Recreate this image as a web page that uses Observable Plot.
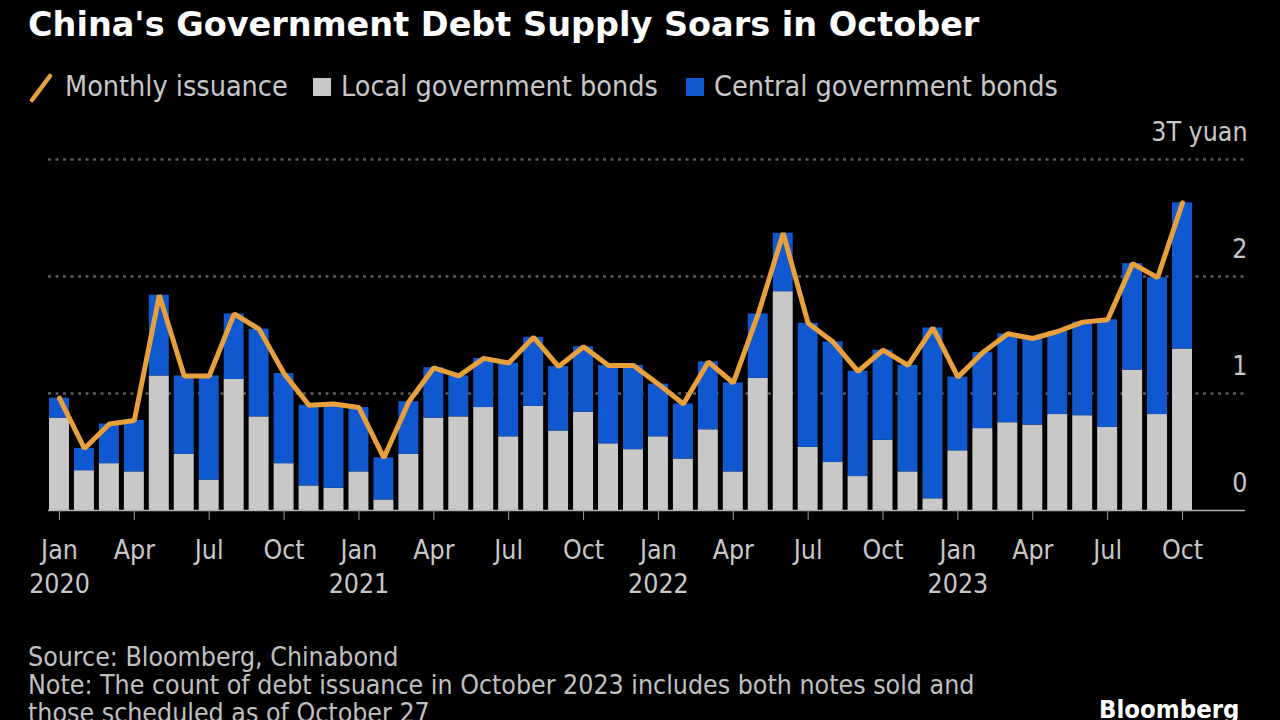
<!DOCTYPE html>
<html><head><meta charset="utf-8">
<script src="https://cdn.jsdelivr.net/npm/d3@7"></script>
<script src="https://cdn.jsdelivr.net/npm/@observablehq/plot@0.6"></script>
<style>
html,body{margin:0;padding:0;background:#000;}
body{width:1280px;height:720px;overflow:hidden;position:relative;font-family:"DejaVu Sans Condensed","DejaVu Sans",sans-serif;font-stretch:condensed;color:#c8c8c8;}
#title{position:absolute;left:28px;top:6px;font-family:"DejaVu Sans",sans-serif;font-stretch:normal;font-size:33.5px;line-height:38px;font-weight:bold;color:#fff;white-space:nowrap;}
.leg{position:absolute;top:71px;height:32px;line-height:32px;font-size:28.5px;color:#c8c8c8;white-space:nowrap;}
.sw{position:absolute;width:18px;height:18px;top:78px;}
#chart{position:absolute;left:0;top:115px;}
#footer{position:absolute;left:28px;top:643px;font-size:26.5px;line-height:28px;color:#c0c0c0;white-space:nowrap;}
#brand{position:absolute;left:1099px;top:694px;font-size:25.5px;line-height:30px;font-weight:bold;color:#fff;white-space:nowrap;}
</style></head><body>
<div id="title">China's Government Debt Supply Soars in October</div>
<svg style="position:absolute;left:28px;top:72px" width="28" height="32"><line x1="4" y1="28" x2="22" y2="4" stroke="#e8a03c" stroke-width="4.5" stroke-linecap="round"/></svg>
<div class="leg" style="left:65px">Monthly issuance</div>
<div class="sw" style="left:313px;background:#c8c8c8"></div>
<div class="leg" style="left:341px">Local government bonds</div>
<div class="sw" style="left:686px;background:#0f58d0"></div>
<div class="leg" style="left:714px">Central government bonds</div>
<div id="chart"></div>
<div id="footer">Source: Bloomberg, Chinabond<br>Note: The count of debt issuance in October 2023 includes both notes sold and<br>those scheduled as of October 27</div>
<div id="brand">Bloomberg</div>
<script>
// Categories: months Jan 2020 .. Oct 2023
const startYear = 2020;
const monthCount = 46;
const monthNames = ["Jan","Feb","Mar","Apr","May","Jun","Jul","Aug","Sep","Oct","Nov","Dec"];
const months = d3.range(monthCount).map(i => `${startYear + Math.floor(i / 12)}-${String(i % 12 + 1).padStart(2, "0")}`);
const tickMonthNames = ["Jan","Apr","Jul","Oct"];

// Local government bonds (trillion yuan)
const local = [0.79,0.34,0.40,0.33,1.15,0.48,0.26,1.12,0.80,0.40,0.21,0.19,
  0.33,0.09,0.48,0.79,0.80,0.88,0.63,0.89,0.68,0.84,0.57,0.52,
  0.63,0.44,0.69,0.33,1.13,1.87,0.54,0.41,0.29,0.60,0.33,0.10,
  0.51,0.70,0.75,0.73,0.82,0.81,0.71,1.20,0.82,1.38];
// Central government bonds (trillion yuan)
const central = [0.17,0.19,0.34,0.44,0.69,0.67,0.89,0.56,0.75,0.77,0.69,0.72,
  0.55,0.36,0.45,0.43,0.35,0.42,0.63,0.59,0.55,0.56,0.67,0.72,
  0.45,0.47,0.58,0.76,0.55,0.50,1.06,1.03,0.90,0.77,0.91,1.46,
  0.63,0.65,0.76,0.74,0.71,0.80,0.92,0.91,1.17,1.25];
// Monthly issuance (trillion yuan)
const issuance = [0.96,0.53,0.74,0.77,1.84,1.15,1.15,1.68,1.55,1.17,0.90,0.91,
  0.88,0.45,0.93,1.22,1.15,1.30,1.26,1.48,1.23,1.40,1.24,1.24,
  1.08,0.91,1.27,1.09,1.68,2.37,1.60,1.44,1.19,1.37,1.24,1.56,
  1.14,1.35,1.51,1.47,1.53,1.61,1.63,2.11,1.99,2.63];
const yTicks = [0, 1, 2, 3];

const data = months.map((m, i) => ({month: m, local: local[i], central: central[i], issuance: issuance[i]}));
const quarterTicks = months.filter(m => tickMonthNames.includes(monthNames[+m.slice(5) - 1]));
const fmt = m => {
  const mi = +m.slice(5) - 1;
  return mi === 0 ? `${monthNames[mi]}\n${m.slice(0, 4)}` : monthNames[mi];
};

const chart = Plot.plot({
  width: 1280, height: 500,
  marginLeft: 48, marginRight: 35, marginTop: 44, marginBottom: 105,
  style: "background:#000;color:#c8c8c8;font-family:'DejaVu Sans Condensed','DejaVu Sans',sans-serif;font-stretch:condensed;",
  x: {type: "band", domain: months, range: [44, 1197], padding: 0.2, label: null},
  y: {domain: [0, 3], range: [395, 44], label: null},
  marks: [
    Plot.ruleY(yTicks.filter(d => d > 0), {stroke: "#5c5c5c", strokeWidth: 2.5, strokeDasharray: "3,4.5"}),
    Plot.barY(data, {x: "month", y1: 0, y2: "local", fill: "#c8c8c8"}),
    Plot.barY(data, {x: "month", y1: "local", y2: d => d.local + d.central, fill: "#0f58d0"}),
    Plot.ruleY([0], {stroke: "#b0b0b0", strokeWidth: 1.5}),
    Plot.line(data, {x: "month", y: "issuance", stroke: "#e8a03c", strokeWidth: 5, strokeLinejoin: "miter"}),
    Plot.axisX({ticks: quarterTicks, tickFormat: fmt, tickSize: 10, tickPadding: 14, fontSize: 26.5, lineHeight: 1.28, stroke: "#9a9a9a", fill: "#c8c8c8", label: null}),
    Plot.axisY({anchor: "right", ticks: yTicks, tickSize: 0, tickPadding: 0, textAnchor: "end", dx: 2, dy: -27, fontSize: 26.5, fill: "#c8c8c8", label: null, tickFormat: d => d === 3 ? "3T yuan" : String(d)})
  ]
});
document.getElementById("chart").appendChild(chart);
</script>
</body></html>
